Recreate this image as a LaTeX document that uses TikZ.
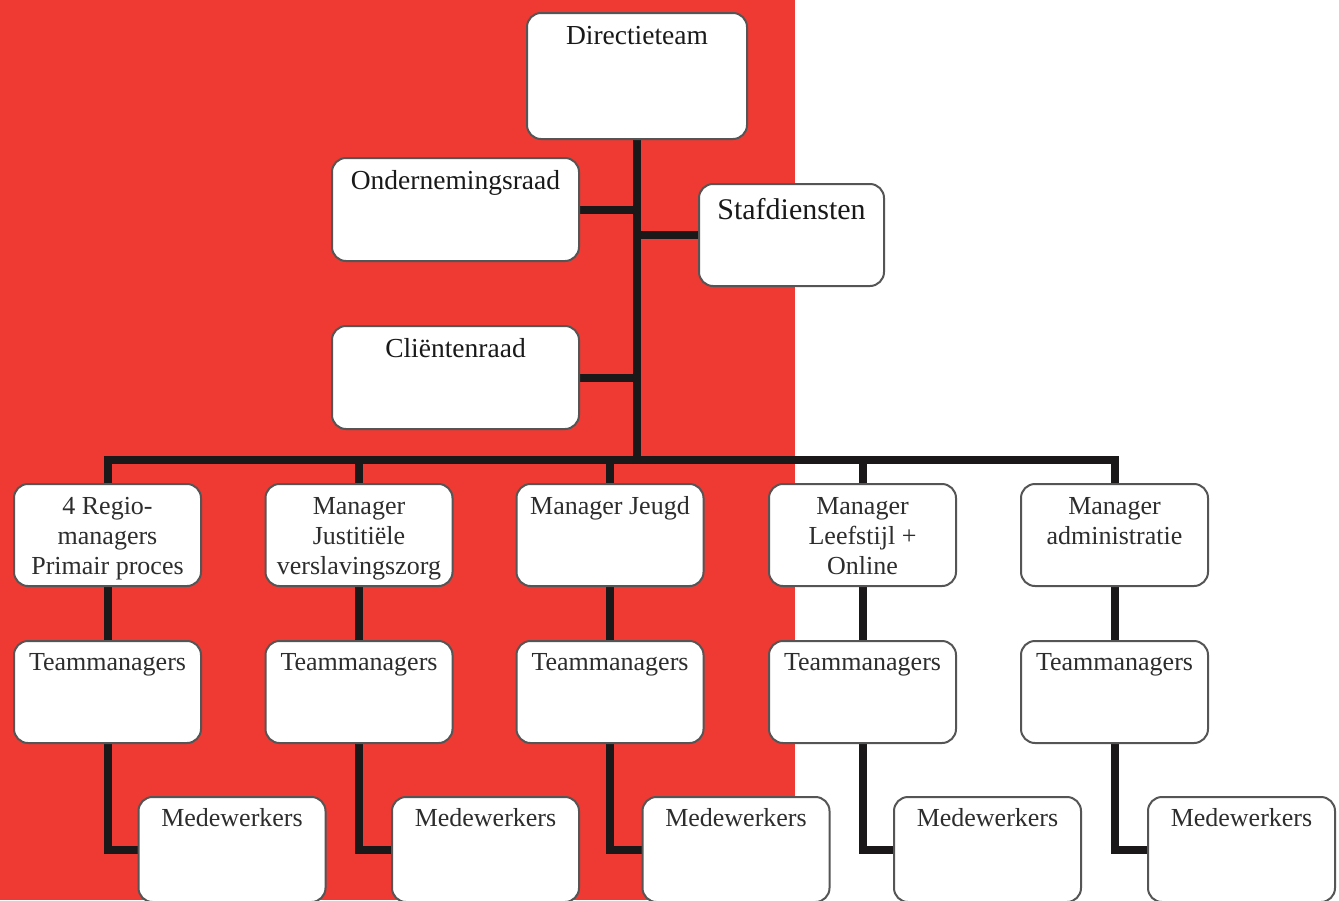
\documentclass[tikz,border=0pt]{standalone}
\usepackage{fontspec}
\setmainfont{Liberation Serif}
\definecolor{bgred}{RGB}{238,58,50}
\definecolor{boxgray}{RGB}{85,85,85}
\definecolor{connblack}{RGB}{26,24,24}
\definecolor{txtdark}{RGB}{45,45,45}
\pgfdeclarelayer{bglayer}
\pgfdeclarelayer{connlayer}
\pgfsetlayers{bglayer,connlayer,main}
\begin{document}
\begin{tikzpicture}[x=1pt,y=-1pt,
  box/.style={draw=boxgray, line width=2pt, fill=white, rounded corners=14pt,
    inner sep=0pt, minimum width=187pt, minimum height=102pt},
  lbl/.style={anchor=north, inner sep=0pt, align=center, text=txtdark,
    font=\fontsize{26}{30}\selectfont},
  toplbl/.style={lbl, text=black!90, font=\fontsize{27.5}{31}\selectfont},
  conn/.style={draw=connblack, line width=8pt}]
\useasboundingbox (0,0) rectangle (1339,900);
\clip (0,0) rectangle (1339,900);
\begin{pgfonlayer}{bglayer}
  \fill[white] (0,0) rectangle (1339,900);
  \fill[bgred] (0,0) rectangle (795,900);
\end{pgfonlayer}

% top part
\node[box, minimum width=220pt, minimum height=126pt] (dt) at (637,76) {};
\node[box, minimum width=247pt, minimum height=103pt] (or) at (455.5,209.5) {};
\node[box, minimum width=185pt, minimum height=102pt] (sd) at (791.5,235) {};
\node[box, minimum width=247pt, minimum height=103pt] (cr) at (455.5,377.5) {};
\node[toplbl] (dtl) at ([yshift=-11pt]dt.north) {\strut Directieteam};
\node[toplbl] (orl) at ([yshift=-11pt]or.north) {\strut Ondernemingsraad};
\node[toplbl, font=\fontsize{30}{34}\selectfont] (sdl) at ([yshift=-12pt]sd.north) {\strut Stafdiensten};
\node[toplbl] (crl) at ([yshift=-11pt]cr.north) {\strut Cliëntenraad};

\coordinate (bus) at (637,460);

% row 1
\node[box] (ra) at (107.5,535) {};
\node[box] (rb) at (359,535) {};
\node[box] (rc) at (610,535) {};
\node[box] (rd) at (862.5,535) {};
\node[box] (re) at (1114.5,535) {};
\node[lbl] (ral) at ([yshift=-10pt]ra.north) {\strut 4 Regio-\\managers\\Primair proces};
\node[lbl] (rbl) at ([yshift=-10pt]rb.north) {\strut Manager\\Justitiële\\verslavingszorg};
\node[lbl] (rcl) at ([yshift=-10pt]rc.north) {\strut Manager Jeugd};
\node[lbl] (rdl) at ([yshift=-10pt]rd.north) {\strut Manager\\Leefstijl +\\Online};
\node[lbl] (rel) at ([yshift=-10pt]re.north) {\strut Manager\\administratie};

% row 2
\foreach \n/\x in {ta/107.5, tb/359, tc/610, td/862.5, te/1114.5}{
  \node[box] (\n) at (\x,692) {};
  \node[lbl] (\n l) at ([yshift=-9pt]\n.north) {\strut Teammanagers};
}
% row 3 (lower edge at the border of the picture)
\foreach \n/\x in {ma/232, mb/485.5, mc/736, md/987.5, me/1241.5}{
  \node[box, minimum height=105pt] (\n) at (\x,849.5) {};
  \node[lbl] (\n l) at ([yshift=-9pt]\n.north) {\strut Medewerkers};
}

\begin{pgfonlayer}{connlayer}
  \draw[conn] (dt.south) -- (dt.south |- bus);
  \draw[conn] (or.east) -- (or.east -| dt.south);
  \draw[conn] (sd.west) -- (sd.west -| dt.south);
  \draw[conn] (cr.east) -- (cr.east -| dt.south);
  \draw[conn] (ra.north) -- (ra.north |- bus) -- (re.north |- bus) -- (re.north);
  \foreach \r in {rb,rc,rd}{
    \draw[conn] (\r.north) -- (\r.north |- bus);
  }
  \foreach \r/\t/\m in {ra/ta/ma, rb/tb/mb, rc/tc/mc, rd/td/md, re/te/me}{
    \draw[conn] (\r.south) -- (\t.north);
    \draw[conn] (\t.south) |- (\m.west);
  }
\end{pgfonlayer}
\end{tikzpicture}
\end{document}
